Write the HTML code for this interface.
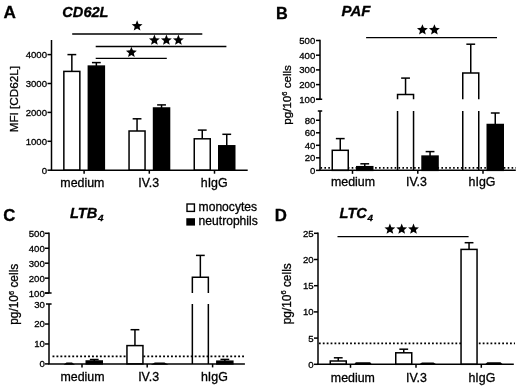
<!DOCTYPE html>
<html><head><meta charset="utf-8"><style>
html,body{margin:0;padding:0;background:#fff;}
svg{display:block;filter:grayscale(1);}
text{font-family:"Liberation Sans",sans-serif;fill:#000;stroke:#000;stroke-width:0.3px;}
</style></head><body>
<svg width="520" height="387" viewBox="0 0 520 387">
<rect width="520" height="387" fill="#fff"/>
<text x="3.4" y="18.4" font-size="17.2" text-anchor="start" font-weight="bold" font-style="normal" >A</text>
<text x="62.3" y="17.1" font-size="14.6" text-anchor="start" font-weight="bold" font-style="italic" >CD62L</text>
<line x1="51.5" y1="40" x2="51.5" y2="170.2" stroke="#000" stroke-width="1.5"/>
<line x1="47.5" y1="170.2" x2="51.5" y2="170.2" stroke="#000" stroke-width="1.5"/><text x="47.0" y="173.65" font-size="9.6" text-anchor="end" font-weight="normal" font-style="normal" >0</text><line x1="47.5" y1="141.29999999999998" x2="51.5" y2="141.29999999999998" stroke="#000" stroke-width="1.5"/><text x="47.0" y="144.75" font-size="9.6" text-anchor="end" font-weight="normal" font-style="normal" >1000</text><line x1="47.5" y1="112.39999999999999" x2="51.5" y2="112.39999999999999" stroke="#000" stroke-width="1.5"/><text x="47.0" y="115.85" font-size="9.6" text-anchor="end" font-weight="normal" font-style="normal" >2000</text><line x1="47.5" y1="83.49999999999999" x2="51.5" y2="83.49999999999999" stroke="#000" stroke-width="1.5"/><text x="47.0" y="86.95" font-size="9.6" text-anchor="end" font-weight="normal" font-style="normal" >3000</text><line x1="47.5" y1="54.599999999999994" x2="51.5" y2="54.599999999999994" stroke="#000" stroke-width="1.5"/><text x="47.0" y="58.05" font-size="9.6" text-anchor="end" font-weight="normal" font-style="normal" >4000</text>
<line x1="71.85" y1="71.4" x2="71.85" y2="54.6" stroke="#000" stroke-width="1.5"/><line x1="67.44999999999999" y1="54.6" x2="76.25" y2="54.6" stroke="#000" stroke-width="1.5"/><rect x="63.849999999999994" y="71.4" width="16.0" height="98.79999999999998" fill="#fff" stroke="#000" stroke-width="1.5"/>
<line x1="96.35" y1="66.1" x2="96.35" y2="62.6" stroke="#000" stroke-width="1.5"/><line x1="91.94999999999999" y1="62.6" x2="100.75" y2="62.6" stroke="#000" stroke-width="1.5"/><rect x="88.35" y="66.1" width="16.0" height="104.1" fill="#000" stroke="#000" stroke-width="1.5"/>
<line x1="137.05" y1="131.0" x2="137.05" y2="118.8" stroke="#000" stroke-width="1.5"/><line x1="132.65" y1="118.8" x2="141.45000000000002" y2="118.8" stroke="#000" stroke-width="1.5"/><rect x="129.05" y="131.0" width="16.0" height="39.19999999999999" fill="#fff" stroke="#000" stroke-width="1.5"/>
<line x1="161.55" y1="108.0" x2="161.55" y2="104.9" stroke="#000" stroke-width="1.5"/><line x1="157.15" y1="104.9" x2="165.95000000000002" y2="104.9" stroke="#000" stroke-width="1.5"/><rect x="153.55" y="108.0" width="16.0" height="62.19999999999999" fill="#000" stroke="#000" stroke-width="1.5"/>
<line x1="202.25" y1="138.8" x2="202.25" y2="130.1" stroke="#000" stroke-width="1.5"/><line x1="197.85" y1="130.1" x2="206.65" y2="130.1" stroke="#000" stroke-width="1.5"/><rect x="194.25" y="138.8" width="16.0" height="31.399999999999977" fill="#fff" stroke="#000" stroke-width="1.5"/>
<line x1="226.75" y1="145.8" x2="226.75" y2="134.3" stroke="#000" stroke-width="1.5"/><line x1="222.35" y1="134.3" x2="231.15" y2="134.3" stroke="#000" stroke-width="1.5"/><rect x="218.75" y="145.8" width="16.0" height="24.399999999999977" fill="#000" stroke="#000" stroke-width="1.5"/>
<line x1="50.75" y1="170.2" x2="247.7" y2="170.2" stroke="#000" stroke-width="1.5"/><line x1="84.1" y1="170.2" x2="84.1" y2="173.7" stroke="#000" stroke-width="1.5"/><line x1="149.3" y1="170.2" x2="149.3" y2="173.7" stroke="#000" stroke-width="1.5"/><line x1="214.5" y1="170.2" x2="214.5" y2="173.7" stroke="#000" stroke-width="1.5"/>
<text x="82.4" y="186.6" font-size="12.4" text-anchor="middle" font-weight="normal" font-style="normal" >medium</text><text x="148.7" y="186.6" font-size="12.4" text-anchor="middle" font-weight="normal" font-style="normal" >IV.3</text><text x="214.2" y="186.6" font-size="12.4" text-anchor="middle" font-weight="normal" font-style="normal" >hIgG</text>
<text transform="translate(18.4,99.2) rotate(-90)" x="0" y="0" font-size="11.7" text-anchor="middle">MFI [CD62L]</text>
<line x1="72.2" y1="34.0" x2="202.3" y2="34.0" stroke="#000" stroke-width="1.3"/>
<line x1="95.7" y1="46.5" x2="226.4" y2="46.5" stroke="#000" stroke-width="1.3"/>
<line x1="95.7" y1="58.3" x2="166.8" y2="58.3" stroke="#000" stroke-width="1.3"/>
<polygon points="137.10,20.30 138.57,23.97 142.52,24.24 139.49,26.78 140.45,30.61 137.10,28.51 133.75,30.61 134.71,26.78 131.68,24.24 135.63,23.97" fill="#000"/>
<polygon points="154.40,34.50 155.87,38.17 159.82,38.44 156.79,40.98 157.75,44.81 154.40,42.71 151.05,44.81 152.01,40.98 148.98,38.44 152.93,38.17" fill="#000"/><polygon points="166.40,34.50 167.87,38.17 171.82,38.44 168.79,40.98 169.75,44.81 166.40,42.71 163.05,44.81 164.01,40.98 160.98,38.44 164.93,38.17" fill="#000"/><polygon points="178.40,34.50 179.87,38.17 183.82,38.44 180.79,40.98 181.75,44.81 178.40,42.71 175.05,44.81 176.01,40.98 172.98,38.44 176.93,38.17" fill="#000"/>
<polygon points="131.40,46.70 132.87,50.37 136.82,50.64 133.79,53.18 134.75,57.01 131.40,54.91 128.05,57.01 129.01,53.18 125.98,50.64 129.93,50.37" fill="#000"/>
<text x="276.1" y="18.6" font-size="16.3" text-anchor="start" font-weight="bold" font-style="normal" >B</text>
<text x="341.5" y="16.2" font-size="15.0" text-anchor="start" font-weight="bold" font-style="italic" >PAF</text>
<path d="M320.0,39.75 L320.0,99.3 M316.0,99.3 L322.2,99.3" stroke="#000" stroke-width="1.5" fill="none"/>
<line x1="316.0" y1="99.3" x2="320.0" y2="99.3" stroke="#000" stroke-width="1.5"/><text x="315.3" y="102.75" font-size="9.6" text-anchor="end" font-weight="normal" font-style="normal" >100</text><line x1="316.0" y1="84.6" x2="320.0" y2="84.6" stroke="#000" stroke-width="1.5"/><text x="315.3" y="88.05" font-size="9.6" text-anchor="end" font-weight="normal" font-style="normal" >200</text><line x1="316.0" y1="69.9" x2="320.0" y2="69.9" stroke="#000" stroke-width="1.5"/><text x="315.3" y="73.35" font-size="9.6" text-anchor="end" font-weight="normal" font-style="normal" >300</text><line x1="316.0" y1="55.2" x2="320.0" y2="55.2" stroke="#000" stroke-width="1.5"/><text x="315.3" y="58.65" font-size="9.6" text-anchor="end" font-weight="normal" font-style="normal" >400</text><line x1="316.0" y1="40.5" x2="320.0" y2="40.5" stroke="#000" stroke-width="1.5"/><text x="315.3" y="43.95" font-size="9.6" text-anchor="end" font-weight="normal" font-style="normal" >500</text>
<path d="M317.8,111.0 L322.2,111.0 M320.0,111.0 L320.0,170.35" stroke="#000" stroke-width="1.5" fill="none"/>
<line x1="316.0" y1="170.35" x2="320.0" y2="170.35" stroke="#000" stroke-width="1.5"/><text x="315.3" y="173.8" font-size="9.6" text-anchor="end" font-weight="normal" font-style="normal" >0</text><line x1="316.0" y1="157.82999999999998" x2="320.0" y2="157.82999999999998" stroke="#000" stroke-width="1.5"/><text x="315.3" y="161.28" font-size="9.6" text-anchor="end" font-weight="normal" font-style="normal" >20</text><line x1="316.0" y1="145.31" x2="320.0" y2="145.31" stroke="#000" stroke-width="1.5"/><text x="315.3" y="148.76" font-size="9.6" text-anchor="end" font-weight="normal" font-style="normal" >40</text><line x1="316.0" y1="132.79" x2="320.0" y2="132.79" stroke="#000" stroke-width="1.5"/><text x="315.3" y="136.24" font-size="9.6" text-anchor="end" font-weight="normal" font-style="normal" >60</text><line x1="316.0" y1="120.27" x2="320.0" y2="120.27" stroke="#000" stroke-width="1.5"/><text x="315.3" y="123.72" font-size="9.6" text-anchor="end" font-weight="normal" font-style="normal" >80</text>
<line x1="320.5" y1="167.8" x2="516.0" y2="167.8" stroke="#000" stroke-width="1.7" stroke-dasharray="1.6,2.3"/>
<line x1="340.25" y1="150.3" x2="340.25" y2="138.6" stroke="#000" stroke-width="1.5"/><line x1="335.85" y1="138.6" x2="344.65" y2="138.6" stroke="#000" stroke-width="1.5"/><rect x="332.25" y="150.3" width="16.0" height="20.049999999999983" fill="#fff" stroke="#000" stroke-width="1.5"/>
<line x1="364.75" y1="166.7" x2="364.75" y2="163.8" stroke="#000" stroke-width="1.5"/><line x1="360.35" y1="163.8" x2="369.15" y2="163.8" stroke="#000" stroke-width="1.5"/><rect x="356.75" y="166.7" width="16.0" height="3.6500000000000057" fill="#000" stroke="#000" stroke-width="1.5"/>
<path d="M397.55,170.35 L397.55,111.0 M413.55,111.0 L413.55,170.35" stroke="#000" stroke-width="1.5" fill="none"/>
<line x1="405.55" y1="94.4" x2="405.55" y2="78.1" stroke="#000" stroke-width="1.5"/><line x1="401.15000000000003" y1="78.1" x2="409.95" y2="78.1" stroke="#000" stroke-width="1.5"/><path d="M397.55,99.3 L397.55,94.4 L413.55,94.4 L413.55,99.3" stroke="#000" stroke-width="1.5" fill="#fff" stroke-linejoin="miter"/>
<line x1="430.05" y1="156.1" x2="430.05" y2="151.6" stroke="#000" stroke-width="1.5"/><line x1="425.65000000000003" y1="151.6" x2="434.45" y2="151.6" stroke="#000" stroke-width="1.5"/><rect x="422.05" y="156.1" width="16.0" height="14.25" fill="#000" stroke="#000" stroke-width="1.5"/>
<path d="M462.75,170.35 L462.75,111.0 M478.75,111.0 L478.75,170.35" stroke="#000" stroke-width="1.5" fill="none"/>
<line x1="470.75" y1="73.1" x2="470.75" y2="44.2" stroke="#000" stroke-width="1.5"/><line x1="466.35" y1="44.2" x2="475.15" y2="44.2" stroke="#000" stroke-width="1.5"/><path d="M462.75,99.3 L462.75,73.1 L478.75,73.1 L478.75,99.3" stroke="#000" stroke-width="1.5" fill="#fff" stroke-linejoin="miter"/>
<line x1="495.25" y1="124.5" x2="495.25" y2="113.0" stroke="#000" stroke-width="1.5"/><line x1="490.85" y1="113.0" x2="499.65" y2="113.0" stroke="#000" stroke-width="1.5"/><rect x="487.25" y="124.5" width="16.0" height="45.849999999999994" fill="#000" stroke="#000" stroke-width="1.5"/>
<line x1="319.25" y1="170.35" x2="515.8" y2="170.35" stroke="#000" stroke-width="1.5"/><line x1="352.5" y1="170.35" x2="352.5" y2="173.85" stroke="#000" stroke-width="1.5"/><line x1="417.8" y1="170.35" x2="417.8" y2="173.85" stroke="#000" stroke-width="1.5"/><line x1="483.0" y1="170.35" x2="483.0" y2="173.85" stroke="#000" stroke-width="1.5"/>
<text x="353.0" y="186.3" font-size="12.4" text-anchor="middle" font-weight="normal" font-style="normal" >medium</text><text x="416.5" y="186.3" font-size="12.4" text-anchor="middle" font-weight="normal" font-style="normal" >IV.3</text><text x="482.0" y="186.3" font-size="12.4" text-anchor="middle" font-weight="normal" font-style="normal" >hIgG</text>
<text transform="translate(291.2,94.9) rotate(-90)" x="0" y="0" font-size="11.6" text-anchor="middle">pg/10<tspan font-size="7.5" dy="-4.2">6</tspan><tspan dy="4.2"> cells</tspan></text>
<line x1="366.1" y1="37.7" x2="497.0" y2="37.7" stroke="#000" stroke-width="1.3"/>
<polygon points="422.40,24.20 423.87,27.87 427.82,28.14 424.79,30.68 425.75,34.51 422.40,32.41 419.05,34.51 420.01,30.68 416.98,28.14 420.93,27.87" fill="#000"/><polygon points="434.40,24.20 435.87,27.87 439.82,28.14 436.79,30.68 437.75,34.51 434.40,32.41 431.05,34.51 432.01,30.68 428.98,28.14 432.93,27.87" fill="#000"/>
<text x="3.3" y="220.6" font-size="16.8" text-anchor="start" font-weight="bold" font-style="normal" >C</text>
<text x="70.0" y="218.2" font-size="14.6" text-anchor="start" font-weight="bold" font-style="italic" >LTB<tspan font-size="9.8" dx="0.6" dy="2.6">4</tspan></text>
<path d="M49.0,232.55 L49.0,293.1 M45.0,293.1 L51.6,293.1" stroke="#000" stroke-width="1.5" fill="none"/>
<line x1="45.0" y1="293.1" x2="49.0" y2="293.1" stroke="#000" stroke-width="1.5"/><text x="44.8" y="296.55" font-size="9.6" text-anchor="end" font-weight="normal" font-style="normal" >100</text><line x1="45.0" y1="278.15000000000003" x2="49.0" y2="278.15000000000003" stroke="#000" stroke-width="1.5"/><text x="44.8" y="281.6" font-size="9.6" text-anchor="end" font-weight="normal" font-style="normal" >200</text><line x1="45.0" y1="263.20000000000005" x2="49.0" y2="263.20000000000005" stroke="#000" stroke-width="1.5"/><text x="44.8" y="266.65" font-size="9.6" text-anchor="end" font-weight="normal" font-style="normal" >300</text><line x1="45.0" y1="248.25" x2="49.0" y2="248.25" stroke="#000" stroke-width="1.5"/><text x="44.8" y="251.7" font-size="9.6" text-anchor="end" font-weight="normal" font-style="normal" >400</text><line x1="45.0" y1="233.3" x2="49.0" y2="233.3" stroke="#000" stroke-width="1.5"/><text x="44.8" y="236.75" font-size="9.6" text-anchor="end" font-weight="normal" font-style="normal" >500</text>
<path d="M46.0,304.1 L51.6,304.1 M49.0,304.1 L49.0,363.9" stroke="#000" stroke-width="1.5" fill="none"/>
<line x1="45.0" y1="363.9" x2="49.0" y2="363.9" stroke="#000" stroke-width="1.5"/><text x="44.8" y="367.35" font-size="9.6" text-anchor="end" font-weight="normal" font-style="normal" >0</text><line x1="45.0" y1="343.96666666666664" x2="49.0" y2="343.96666666666664" stroke="#000" stroke-width="1.5"/><text x="44.8" y="347.42" font-size="9.6" text-anchor="end" font-weight="normal" font-style="normal" >10</text><line x1="45.0" y1="324.03333333333336" x2="49.0" y2="324.03333333333336" stroke="#000" stroke-width="1.5"/><text x="44.8" y="327.48" font-size="9.6" text-anchor="end" font-weight="normal" font-style="normal" >20</text>
<text x="44.8" y="307.55" font-size="9.6" text-anchor="end" font-weight="normal" font-style="normal" >30</text>
<line x1="52.5" y1="356.4" x2="246.0" y2="356.4" stroke="#000" stroke-width="1.7" stroke-dasharray="1.9,2.05"/>
<polygon points="63.5,364.65 66.5,362.4 72.0,362.4 75.0,364.65" fill="#000"/>
<line x1="94.25" y1="361.0" x2="94.25" y2="359.5" stroke="#000" stroke-width="1.5"/><line x1="89.85" y1="359.5" x2="98.65" y2="359.5" stroke="#000" stroke-width="1.5"/><rect x="86.25" y="361.0" width="16.0" height="2.8999999999999773" fill="#000" stroke="#000" stroke-width="1.5"/>
<line x1="134.95" y1="345.6" x2="134.95" y2="329.7" stroke="#000" stroke-width="1.5"/><line x1="130.54999999999998" y1="329.7" x2="139.35" y2="329.7" stroke="#000" stroke-width="1.5"/><rect x="126.94999999999999" y="345.6" width="16.0" height="18.299999999999955" fill="#fff" stroke="#000" stroke-width="1.5"/>
<polygon points="150.8,364.65 154.8,362.4 164.5,362.4 168.5,364.65" fill="#000"/>
<path d="M192.35,363.9 L192.35,304.1 M208.35,304.1 L208.35,363.9" stroke="#000" stroke-width="1.5" fill="none"/>
<line x1="200.35" y1="277.3" x2="200.35" y2="255.4" stroke="#000" stroke-width="1.5"/><line x1="195.95" y1="255.4" x2="204.75" y2="255.4" stroke="#000" stroke-width="1.5"/><path d="M192.35,293.1 L192.35,277.3 L208.35,277.3 L208.35,293.1" stroke="#000" stroke-width="1.5" fill="#fff" stroke-linejoin="miter"/>
<line x1="224.85" y1="361.2" x2="224.85" y2="359.4" stroke="#000" stroke-width="1.5"/><line x1="220.45" y1="359.4" x2="229.25" y2="359.4" stroke="#000" stroke-width="1.5"/><rect x="216.85" y="361.2" width="16.0" height="2.6999999999999886" fill="#000" stroke="#000" stroke-width="1.5"/>
<line x1="48.25" y1="363.9" x2="244.9" y2="363.9" stroke="#000" stroke-width="1.5"/><line x1="82.0" y1="363.9" x2="82.0" y2="367.4" stroke="#000" stroke-width="1.5"/><line x1="147.2" y1="363.9" x2="147.2" y2="367.4" stroke="#000" stroke-width="1.5"/><line x1="212.6" y1="363.9" x2="212.6" y2="367.4" stroke="#000" stroke-width="1.5"/>
<text x="82.5" y="380.9" font-size="12.4" text-anchor="middle" font-weight="normal" font-style="normal" >medium</text><text x="148.6" y="380.9" font-size="12.4" text-anchor="middle" font-weight="normal" font-style="normal" >IV.3</text><text x="214.4" y="380.9" font-size="12.4" text-anchor="middle" font-weight="normal" font-style="normal" >hIgG</text>
<text transform="translate(17.9,294.3) rotate(-90)" x="0" y="0" font-size="11.9" text-anchor="middle">pg/10<tspan font-size="7.5" dy="-4.2">6</tspan><tspan dy="4.2"> cells</tspan></text>
<rect x="187.0" y="204.0" width="7.4" height="7.4" fill="#fff" stroke="#000" stroke-width="1.4"/>
<rect x="186.3" y="218.2" width="8.7" height="7.4" fill="#000"/>
<text x="198.6" y="210.8" font-size="12.1" text-anchor="start" font-weight="normal" font-style="normal" >monocytes</text>
<text x="198.6" y="224.8" font-size="12.1" text-anchor="start" font-weight="normal" font-style="normal" >neutrophils</text>
<text x="274.8" y="220.6" font-size="16.8" text-anchor="start" font-weight="bold" font-style="normal" >D</text>
<text x="339.6" y="218.2" font-size="14.6" text-anchor="start" font-weight="bold" font-style="italic" >LTC<tspan font-size="9.8" dx="0.6" dy="2.6">4</tspan></text>
<line x1="318.0" y1="232.55" x2="318.0" y2="364.3" stroke="#000" stroke-width="1.5"/>
<line x1="314.0" y1="364.3" x2="318.0" y2="364.3" stroke="#000" stroke-width="1.5"/><text x="313.6" y="367.75" font-size="9.6" text-anchor="end" font-weight="normal" font-style="normal" >0</text><line x1="314.0" y1="338.1" x2="318.0" y2="338.1" stroke="#000" stroke-width="1.5"/><text x="313.6" y="341.55" font-size="9.6" text-anchor="end" font-weight="normal" font-style="normal" >5</text><line x1="314.0" y1="311.9" x2="318.0" y2="311.9" stroke="#000" stroke-width="1.5"/><text x="313.6" y="315.35" font-size="9.6" text-anchor="end" font-weight="normal" font-style="normal" >10</text><line x1="314.0" y1="285.7" x2="318.0" y2="285.7" stroke="#000" stroke-width="1.5"/><text x="313.6" y="289.15" font-size="9.6" text-anchor="end" font-weight="normal" font-style="normal" >15</text><line x1="314.0" y1="259.5" x2="318.0" y2="259.5" stroke="#000" stroke-width="1.5"/><text x="313.6" y="262.95" font-size="9.6" text-anchor="end" font-weight="normal" font-style="normal" >20</text><line x1="314.0" y1="233.3" x2="318.0" y2="233.3" stroke="#000" stroke-width="1.5"/><text x="313.6" y="236.75" font-size="9.6" text-anchor="end" font-weight="normal" font-style="normal" >25</text>
<line x1="318.9" y1="343.4" x2="515.0" y2="343.4" stroke="#000" stroke-width="1.7" stroke-dasharray="1.8,2.1"/>
<line x1="338.25" y1="361.0" x2="338.25" y2="357.8" stroke="#000" stroke-width="1.5"/><line x1="333.85" y1="357.8" x2="342.65" y2="357.8" stroke="#000" stroke-width="1.5"/><rect x="330.25" y="361.0" width="16.0" height="3.3000000000000114" fill="#fff" stroke="#000" stroke-width="1.5"/>
<polygon points="353.8,365.05 355.8,362.3 370.2,362.3 372.2,365.05" fill="#000"/>
<line x1="403.75" y1="352.8" x2="403.75" y2="349.2" stroke="#000" stroke-width="1.5"/><line x1="399.35" y1="349.2" x2="408.15" y2="349.2" stroke="#000" stroke-width="1.5"/><rect x="395.75" y="352.8" width="16.0" height="11.5" fill="#fff" stroke="#000" stroke-width="1.5"/>
<polygon points="418.0,365.05 422.0,362.40000000000003 433.5,362.40000000000003 437.5,365.05" fill="#000"/>
<line x1="469.05" y1="249.4" x2="469.05" y2="242.7" stroke="#000" stroke-width="1.5"/><line x1="464.65000000000003" y1="242.7" x2="473.45" y2="242.7" stroke="#000" stroke-width="1.5"/><rect x="461.05" y="249.4" width="16.0" height="114.9" fill="#fff" stroke="#000" stroke-width="1.5"/>
<polygon points="484.3,365.05 487.3,362.3 500.5,362.3 503.5,365.05" fill="#000"/>
<line x1="317.25" y1="364.3" x2="513.8" y2="364.3" stroke="#000" stroke-width="1.5"/><line x1="350.5" y1="364.3" x2="350.5" y2="367.8" stroke="#000" stroke-width="1.5"/><line x1="416.0" y1="364.3" x2="416.0" y2="367.8" stroke="#000" stroke-width="1.5"/><line x1="481.3" y1="364.3" x2="481.3" y2="367.8" stroke="#000" stroke-width="1.5"/>
<text x="352.9" y="381.6" font-size="12.4" text-anchor="middle" font-weight="normal" font-style="normal" >medium</text><text x="416.5" y="381.6" font-size="12.4" text-anchor="middle" font-weight="normal" font-style="normal" >IV.3</text><text x="481.9" y="381.6" font-size="12.4" text-anchor="middle" font-weight="normal" font-style="normal" >hIgG</text>
<text transform="translate(290.6,293.8) rotate(-90)" x="0" y="0" font-size="11.9" text-anchor="middle">pg/10<tspan font-size="7.5" dy="-4.2">6</tspan><tspan dy="4.2"> cells</tspan></text>
<line x1="337.5" y1="236.6" x2="468.6" y2="236.6" stroke="#000" stroke-width="1.3"/>
<polygon points="389.90,223.50 391.37,227.17 395.32,227.44 392.29,229.98 393.25,233.81 389.90,231.71 386.55,233.81 387.51,229.98 384.48,227.44 388.43,227.17" fill="#000"/><polygon points="401.70,223.50 403.17,227.17 407.12,227.44 404.09,229.98 405.05,233.81 401.70,231.71 398.35,233.81 399.31,229.98 396.28,227.44 400.23,227.17" fill="#000"/><polygon points="413.50,223.50 414.97,227.17 418.92,227.44 415.89,229.98 416.85,233.81 413.50,231.71 410.15,233.81 411.11,229.98 408.08,227.44 412.03,227.17" fill="#000"/>
</svg>
</body></html>
